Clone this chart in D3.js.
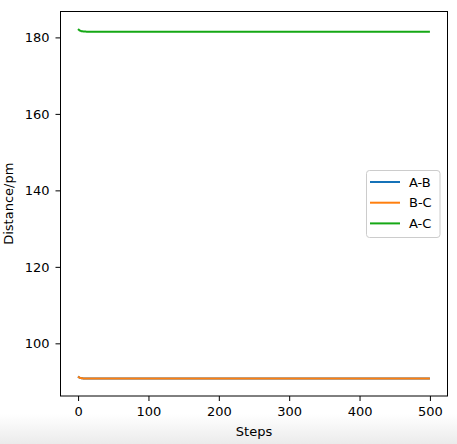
<!DOCTYPE html>
<html><head><meta charset="utf-8">
<script src="https://cdn.jsdelivr.net/npm/d3@7"></script>
<style>body{margin:0;background:#fff}svg{display:block}text{font-family:"DejaVu Sans",sans-serif}</style>
</head><body><svg id="c" width="457" height="444"></svg>
<script>
const steps = [0, 1, 2, 3, 4, 5, 6, 8, 10, 12, 15, 20, 30, 50, 100, 200, 300, 400, 500];
const abValues = [91.3, 91.15, 91.05, 90.98, 90.93, 90.89, 90.86, 90.83, 90.81, 90.8, 90.8, 90.8, 90.8, 90.8, 90.8, 90.8, 90.8, 90.8, 90.8];
const bcValues = [91.3, 91.15, 91.05, 90.98, 90.93, 90.89, 90.86, 90.83, 90.81, 90.8, 90.8, 90.8, 90.8, 90.8, 90.8, 90.8, 90.8, 90.8, 90.8];
const acValues = [182.2, 182.0, 181.85, 181.75, 181.68, 181.62, 181.58, 181.54, 181.52, 181.5, 181.5, 181.5, 181.5, 181.5, 181.5, 181.5, 181.5, 181.5, 181.5];
const seriesNames = ["A-B", "B-C", "A-C"];
const seriesColors = ["#1572b8", "#ff7f0e", "#15a815"];
const xTicks = [0, 100, 200, 300, 400, 500];
const yTicks = [100, 120, 140, 160, 180];

const svg = d3.select("#c");
const defs = svg.append("defs");
const g = defs.append("linearGradient").attr("id","bg").attr("x1",0).attr("y1",0).attr("x2",0).attr("y2",1);
g.append("stop").attr("offset","0").attr("stop-color","#ffffff");
g.append("stop").attr("offset","1").attr("stop-color","#ebebeb");
svg.append("rect").attr("x",0).attr("y",414).attr("width",457).attr("height",30).attr("fill","url(#bg)");

const L = 60.5, R = 447.5, T = 11.5, B = 396;
const x = d3.scaleLinear().domain([-25, 525]).range([L, R]);
const all = abValues.concat(bcValues, acValues);
const mn = d3.min(all), mx = d3.max(all), pad = (mx - mn) * 0.05;
const y = d3.scaleLinear().domain([mn - pad, mx + pad]).range([B, T]);

const fs = "13px";
const xa = svg.append("g").attr("transform", `translate(0,${B})`)
  .call(d3.axisBottom(x).tickValues(xTicks).tickSize(5).tickPadding(6).tickFormat(d3.format("d")));
const ya = svg.append("g").attr("transform", `translate(${L},0)`)
  .call(d3.axisLeft(y).tickValues(yTicks).tickSize(5).tickPadding(6).tickFormat(d3.format("d")));
[xa, ya].forEach(a => {
  a.select(".domain").remove();
  a.selectAll("line").attr("stroke", "#000").attr("stroke-width", 1);
  a.selectAll("text").attr("fill", "#000").style("font-size", fs).style("font-family", "DejaVu Sans");
});

const series = [abValues, bcValues, acValues];
const line = d3.line().x((d, i) => x(steps[i])).y(d => y(d)).curve(d3.curveMonotoneX);
defs.append("clipPath").attr("id","clip").append("rect").attr("x",L).attr("y",T).attr("width",R-L).attr("height",B-T);
series.forEach((s, k) => {
  svg.append("path").datum(s).attr("d", line).attr("fill", "none")
    .attr("stroke", seriesColors[k]).attr("stroke-width", 2).attr("stroke-linecap","butt")
    .attr("clip-path","url(#clip)");
});

svg.append("rect").attr("x", L).attr("y", T).attr("width", R - L).attr("height", B - T)
  .attr("fill", "none").attr("stroke", "#000").attr("stroke-width", 1);

// legend
const lg = svg.append("g");
lg.append("rect").attr("x", 366.5).attr("y", 170.5).attr("width", 73.5).attr("height", 67)
  .attr("rx", 3).attr("fill", "#fff").attr("fill-opacity", 0.8).attr("stroke", "#ccc").attr("stroke-width", 1);
seriesNames.forEach((n, i) => {
  const yy = 182 + i * 20.7;
  lg.append("line").attr("x1", 370).attr("x2", 400).attr("y1", yy).attr("y2", yy)
    .attr("stroke", seriesColors[i]).attr("stroke-width", 2);
  lg.append("text").attr("x", 409).attr("y", yy).attr("dy", "0.36em").text(n)
    .style("font-size", fs).attr("fill", "#000");
});

svg.append("text").attr("x", (L + R) / 2).attr("y", 436).attr("text-anchor", "middle")
  .style("font-size", fs).text("Steps");
svg.append("text").attr("transform", `translate(12.5,${(T + B) / 2}) rotate(-90)`).attr("text-anchor", "middle")
  .style("font-size", fs).text("Distance/pm");
</script></body></html>
